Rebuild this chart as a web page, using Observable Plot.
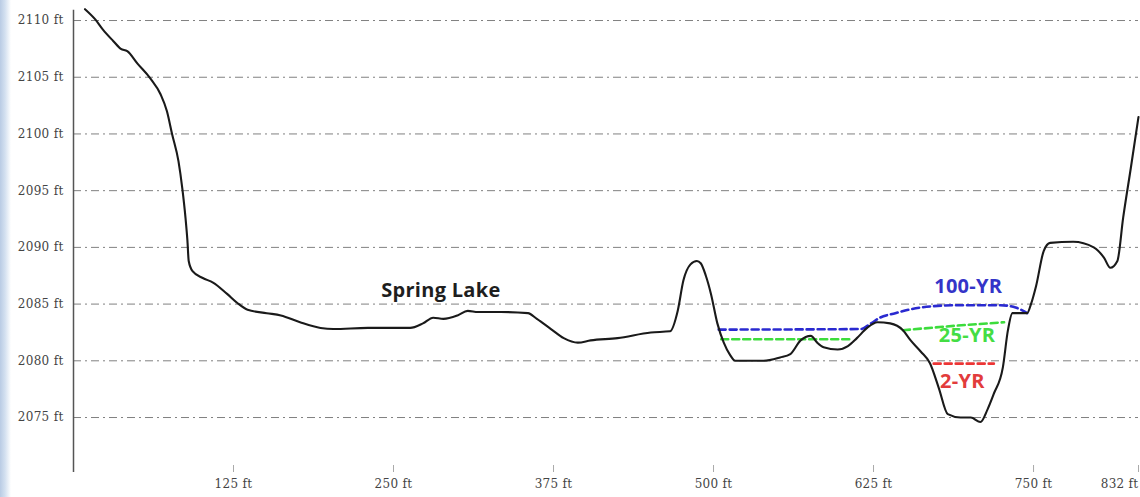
<!DOCTYPE html>
<html><head><meta charset="utf-8">
<script src="https://cdn.jsdelivr.net/npm/d3@7"></script>
<script src="https://cdn.jsdelivr.net/npm/@observablehq/plot@0.6"></script>
<style>
html,body{margin:0;padding:0;}
body{width:1140px;height:497px;overflow:hidden;background:linear-gradient(90deg,#b9cbe4 0px,#d3e0f0 5px,#ffffff 11px);}
#chart svg{display:block;}
</style></head><body><div id="chart"></div>
<script>
// Ground profile (distance in ft, elevation in ft)
const profileDistance = [9,17,23,31,37,42,50,60,68,73,77,82,85,87.5,89,90,93,101,109,120,128,136,151,162,177,193,203,230,263,273,281,289,300,308,316,334,355,362,373,383,394,404,425,451,466,472,476.5,482,487,490,494,498,503,508,513,517,539,552,560,568,576,581,586,597,605,612,620,628,638,648,654,662,669,676,683,693,701,708.5,714,719,726,730,733.5,745,748,752,758,763,781,797,805,810,815.5,820,826,832];
const profileElevation = [2111.0,2110.1,2109.2,2108.2,2107.5,2107.3,2106.2,2104.9,2103.5,2102.0,2100.0,2097.6,2095.2,2092.6,2090.6,2088.8,2087.9,2087.3,2086.9,2085.9,2085.1,2084.5,2084.2,2084.0,2083.4,2082.9,2082.8,2082.9,2082.9,2083.3,2083.8,2083.7,2084.0,2084.4,2084.3,2084.3,2084.2,2083.7,2082.8,2082.0,2081.6,2081.8,2082.0,2082.5,2082.6,2084.4,2087.1,2088.5,2088.8,2088.6,2087.5,2085.9,2083.3,2081.6,2080.5,2080.0,2080.0,2080.3,2080.6,2081.8,2082.2,2081.6,2081.2,2081.0,2081.3,2082.0,2082.9,2083.4,2083.3,2082.7,2081.8,2080.8,2079.8,2077.6,2075.3,2075.0,2075.0,2074.6,2075.7,2077.1,2079.4,2082.7,2084.2,2084.2,2085.0,2086.6,2089.7,2090.4,2090.5,2090.0,2089.1,2088.2,2088.8,2092.6,2097.0,2101.5];

// Water surface profiles
const q100Distance = [504,615,623,630,642,662,689,724,736,745];
const q100Elevation = [2082.75,2082.8,2083.3,2083.8,2084.2,2084.7,2084.9,2084.9,2084.7,2084.2];
const q25Distance = [506,609,648,690,727];
const q25Elevation = [2081.9,2081.9,2082.7,2083.1,2083.4];
const q25Reach = ["a","a","b","b","b"];
const q2Distance = [672,719];
const q2Elevation = [2079.75,2079.75];

// Annotations
const labelText = ["Spring Lake","100-YR","25-YR","2-YR"];
const labelDistance = [287,699,698,694.5];
const labelElevation = [2086.2,2086.5,2082.2,2078.2];
const labelColor = ["#1e1e1e","#3434c8","#44dd44","#e23c3c"];

// Axis ticks
const yTicks = [2075,2080,2085,2090,2095,2100,2105,2110];
const xTicks = [125,250,375,500,625,750];
const xEndTick = [832];

const profile = profileDistance.map((d,i)=>({dist:d, elev:profileElevation[i]}));
const q100 = q100Distance.map((d,i)=>({dist:d, elev:q100Elevation[i]}));
const q25 = q25Distance.map((d,i)=>({dist:d, elev:q25Elevation[i], reach:q25Reach[i]}));
const q2 = q2Distance.map((d,i)=>({dist:d, elev:q2Elevation[i]}));
const labels = labelText.map((t,i)=>({text:t, dist:labelDistance[i], elev:labelElevation[i], color:labelColor[i]}));

const fmt = d => `${d} ft`;
const chart = Plot.plot({
  width: 1140, height: 497,
  marginLeft: 73, marginRight: 2, marginTop: 8, marginBottom: 32,
  x: {domain: [0, 832]},
  y: {domain: [2070.77, 2111.06]},
  style: {background: "transparent", fontFamily: "DejaVu Serif", fontSize: "12px", color: "#444", letterSpacing: "0.3px"},
  marks: [
    Plot.ruleY(yTicks, {stroke: "#555", strokeOpacity: 0.75, strokeWidth: 1, strokeDasharray: "8,4,2,4"}),
    Plot.ruleX([0], {y1: 2070.15, y2: 2110.9, stroke: "#555", strokeWidth: 1.5}),
    Plot.axisY(yTicks, {tickSize: 0, tickPadding: 10, tickFormat: fmt, label: null, fill: "#444"}),
    Plot.axisX(xTicks, {tickSize: 7, tickPadding: 7, tickFormat: fmt, label: null, stroke: "#aaa", fill: "#444"}),
    Plot.axisX(xEndTick, {tickSize: 7, tickPadding: 7, tickFormat: fmt, label: null, stroke: "#aaa", fill: "#444", textAnchor: "end"}),
    Plot.line(q100, {x: "dist", y: "elev", stroke: "#2a2ad0", strokeWidth: 2.6, strokeDasharray: "7,4", curve: "monotone-x"}),
    Plot.line(q25, {x: "dist", y: "elev", z: "reach", stroke: "#3cdc3c", strokeWidth: 2.6, strokeDasharray: "7,4"}),
    Plot.line(q2, {x: "dist", y: "elev", stroke: "#ec3535", strokeWidth: 2.6, strokeDasharray: "7,4"}),
    Plot.line(profile, {x: "dist", y: "elev", stroke: "#1a1a1a", strokeWidth: 2.1, curve: "monotone-x", strokeLinejoin: "round"}),
    Plot.text(labels, {x: "dist", y: "elev", text: "text", fill: "color", fontFamily: "Open Sans", fontWeight: "bold", fontSize: 20, letterSpacing: "0px"})
  ]
});
document.getElementById("chart").appendChild(chart);
</script>
</body></html>
